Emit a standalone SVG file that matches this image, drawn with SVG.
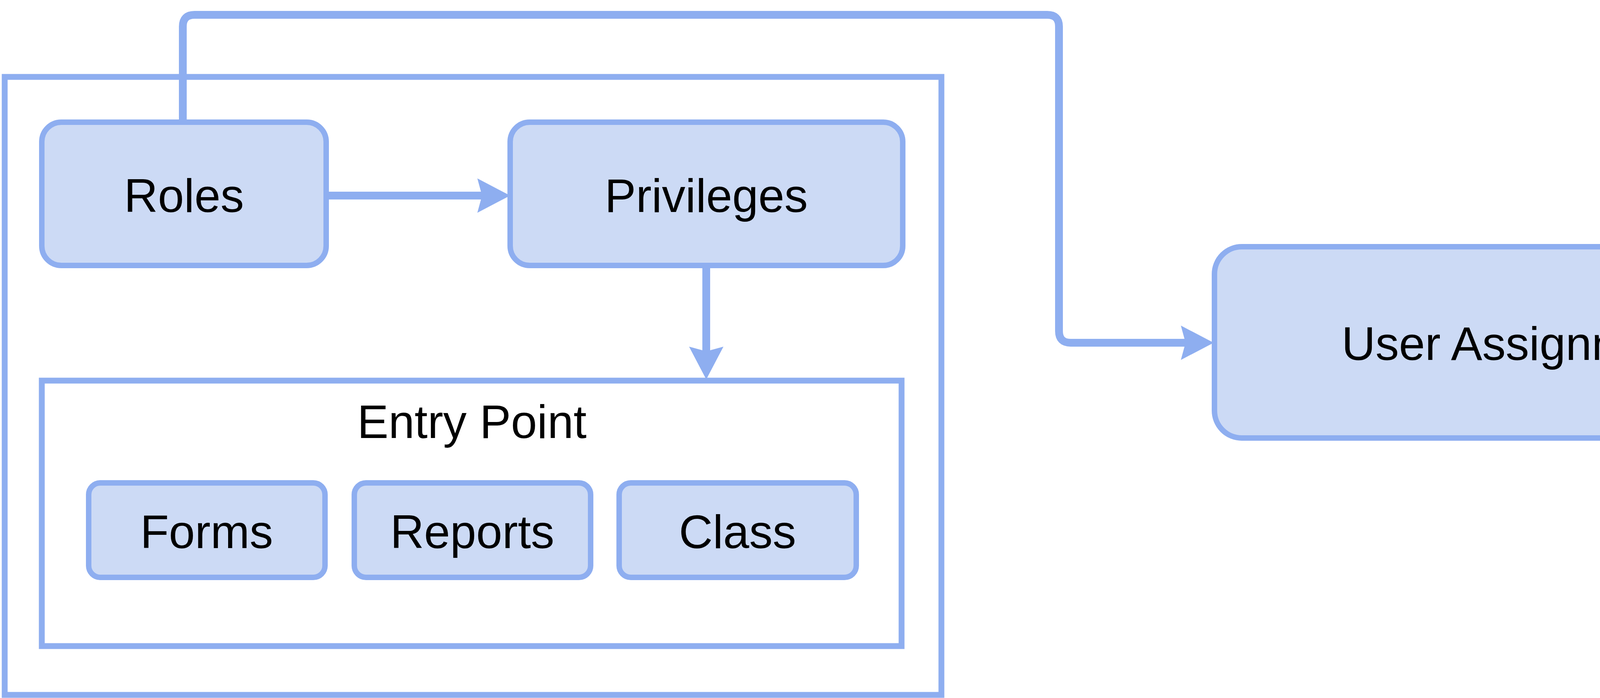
<svg xmlns="http://www.w3.org/2000/svg" width="4676" height="1788" viewBox="0 0 4676 1788">
<style>
.box{fill:#CCDAF5;stroke:#8EAEF0;stroke-width:14}
.frame{fill:none;stroke:#8EAEF0;stroke-width:15}
.edge{fill:none;stroke:#8EAEF0;stroke-width:20;stroke-linejoin:round}
text{font-family:"Liberation Sans",Arial,sans-serif;font-size:120px;fill:#000;text-anchor:middle;dominant-baseline:central}
</style>
<defs>
<marker id="arr" markerUnits="userSpaceOnUse" markerWidth="100" markerHeight="100" viewBox="0 0 100 100" refX="22" refY="50" orient="auto">
<path d="M8,6 L92,50 L8,94 L20,50 Z" fill="#8EAEF0"/>
</marker>
</defs>
<rect width="4676" height="1788" fill="#fff"/>
<g id="outer"><rect class="frame" x="12" y="197" width="2398" height="1583"/></g>
<g id="connectors">
<path class="edge" d="M835,501 H1236" marker-end="url(#arr)"/>
<path class="edge" d="M1808,680 V902" marker-end="url(#arr)"/>
<path class="edge" d="M468,313 V68 Q468,38 498,38 H2681 Q2711,38 2711,68 V848 Q2711,878 2741,878 H3037" marker-end="url(#arr)"/>
</g>
<g id="roles"><rect class="box" x="107" y="313" width="728" height="367" rx="50"/><text x="471" y="501">Roles</text></g>
<g id="privileges"><rect class="box" x="1306" y="313" width="1005" height="367" rx="50"/><text x="1808" y="501">Privileges</text></g>
<g id="entry"><rect class="frame" x="107" y="975" width="2201" height="680"/><text x="1208" y="1080">Entry Point</text></g>
<g id="forms"><rect class="box" x="227" y="1237" width="605" height="242" rx="30"/><text x="529" y="1362">Forms</text></g>
<g id="reports"><rect class="box" x="907" y="1237" width="605" height="242" rx="30"/><text x="1209" y="1362">Reports</text></g>
<g id="class"><rect class="box" x="1585" y="1237" width="607" height="242" rx="30"/><text x="1888" y="1362">Class</text></g>
<g id="user"><rect class="box" x="3109" y="632" width="1558" height="490" rx="70"/><text x="3888" y="880">User Assignment</text></g>
</svg>
